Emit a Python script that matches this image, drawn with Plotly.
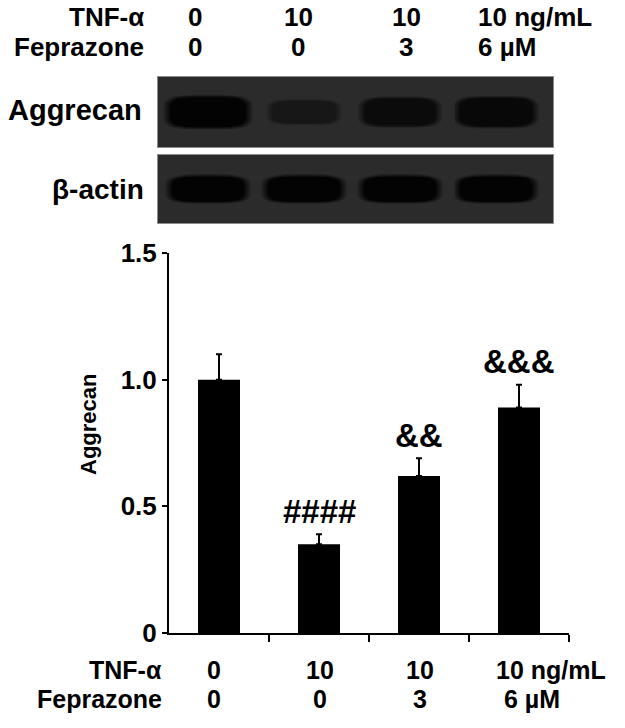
import numpy as np
import plotly.graph_objects as go

# Western blot band intensities (relative darkness per lane)
LANES = ["1", "2", "3", "4"]
AGGRECAN_BAND = [1.0, 0.5, 0.8, 0.88]
ACTIN_BAND = [1.0, 1.0, 1.0, 1.0]

# Densitometry (Aggrecan / beta-actin)
AGGRECAN_MEAN = [1.0, 0.35, 0.62, 0.89]
AGGRECAN_SEM = [0.10, 0.04, 0.07, 0.09]
SIG_MARKS = ["", "####", "&&", "&&&"]

TNF_LABELS = ["0", "10", "10", "10 ng/mL"]
FEP_LABELS = ["0", "0", "3", "6 µM"]

FONT = "Arial, Liberation Sans, sans-serif"
W, H = 625, 728


def px_x(v):
    return v / W


def px_y(v):
    return (H - v) / H


BLOT_X = [-0.52, 3.59]
BLOT_CMAP = [[0, "#2b2b2b"], [1, "#030303"]]


def band_image(intensities, hw_fn, hh_fn):
    """Render blot lanes as soft rounded bands on a fine grid."""
    xs = np.arange(BLOT_X[0], BLOT_X[1] + 0.005, 0.01)
    ys = np.arange(0, 1.005, 0.01)
    gx, gy = np.meshgrid(xs, ys)
    z = np.zeros_like(gx)
    for lane, inten in enumerate(intensities):
        hw, hh = hw_fn(inten), hh_fn(inten)
        rr = ((np.abs(gx - lane) / hw) ** 4 + (np.abs(gy - 0.5) / hh) ** 4) ** 0.25
        z = np.maximum(z, inten * np.clip((1.1 - rr) / 0.2, 0, 1))
    return xs, ys, z


fig = go.Figure()

ax, ay, az = band_image(AGGRECAN_BAND, lambda i: 0.3 + 0.13 * i, lambda i: 0.12 + 0.11 * i)
fig.add_trace(go.Heatmap(x=ax, y=ay, z=az, colorscale=BLOT_CMAP, zmin=0, zmax=1,
                         showscale=False, hoverinfo="skip", xaxis="x2", yaxis="y2"))
bx, by, bz = band_image(ACTIN_BAND, lambda i: 0.41, lambda i: 0.2)
fig.add_trace(go.Heatmap(x=bx, y=by, z=bz, colorscale=BLOT_CMAP, zmin=0, zmax=1,
                         showscale=False, hoverinfo="skip", xaxis="x3", yaxis="y3"))

fig.add_trace(go.Bar(
    x=list(range(len(AGGRECAN_MEAN))),
    y=AGGRECAN_MEAN,
    width=0.42,
    marker=dict(color="black", line=dict(width=0)),
    error_y=dict(type="data", array=AGGRECAN_SEM, arrayminus=[0] * 4, symmetric=False,
                 color="black", thickness=2, width=3),
    hoverinfo="skip",
))

blot_axis = dict(range=BLOT_X, showline=True, mirror=True, linecolor="#8c8c8c", linewidth=1,
                 showticklabels=False, ticks="", showgrid=False, zeroline=False)
blot_yaxis = dict(range=[0, 1], showline=True, mirror=True, linecolor="#8c8c8c", linewidth=1,
                  showticklabels=False, ticks="", showgrid=False, zeroline=False)

fig.update_layout(
    width=W, height=H,
    margin=dict(l=0, r=0, t=0, b=0, autoexpand=False),
    paper_bgcolor="white", plot_bgcolor="white",
    showlegend=False,
    font=dict(family=FONT, color="black", size=24),
    xaxis=dict(domain=[px_x(169), px_x(569)], range=[-0.5, 3.5],
               tickvals=[0.5, 1.5, 2.5, 3.5], showticklabels=False,
               ticks="outside", ticklen=7, tickwidth=2, tickcolor="black",
               showline=True, linewidth=2, linecolor="black",
               showgrid=False, zeroline=False, anchor="y", automargin=False),
    yaxis=dict(domain=[px_y(633), px_y(253)], range=[0, 1.5],
               tickvals=[0, 0.5, 1.0, 1.5], ticktext=["0", "0.5", "1.0", "1.5"],
               ticks="outside", ticklen=5, tickwidth=2, tickcolor="black",
               tickfont=dict(size=26, family=FONT, weight="bold"),
               showline=True, linewidth=2, linecolor="black",
               showgrid=False, zeroline=False, anchor="x", automargin=False),
    xaxis2=dict(domain=[px_x(158), px_x(553)], anchor="y2", **blot_axis),
    yaxis2=dict(domain=[px_y(147), px_y(77)], anchor="x2", **blot_yaxis),
    xaxis3=dict(domain=[px_x(158), px_x(553)], anchor="y3", **blot_axis),
    yaxis3=dict(domain=[px_y(223), px_y(155)], anchor="x3", **blot_yaxis),
)

bold = dict(family=FONT, weight="bold", color="black")
ann = []

# y axis title
ann.append(dict(text="Aggrecan", x=px_x(89), y=px_y(425), xref="paper", yref="paper",
                xanchor="center", yanchor="middle",
                textangle=-90, showarrow=False, font=dict(size=22, **bold)))

# significance marks
for i, (m, s, mark) in enumerate(zip(AGGRECAN_MEAN, AGGRECAN_SEM, SIG_MARKS)):
    if mark:
        ann.append(dict(text=mark, x=i, y=m + s, xref="x", yref="y",
                        xanchor="center", yanchor="middle",
                        yshift=23, showarrow=False, font=dict(size=33, **bold)))

# blot row labels
ann.append(dict(text="Aggrecan", x=px_x(144), y=px_y(110), xref="paper", yref="paper",
                xanchor="right", yanchor="middle", showarrow=False, font=dict(size=29, **bold)))
ann.append(dict(text="β-actin", x=px_x(146), y=px_y(190), xref="paper", yref="paper",
                xanchor="right", yanchor="middle", showarrow=False, font=dict(size=28, **bold)))

# treatment headers (top, aligned to blot lanes)
top_shift = [-13, -6, 6, -20]
for row_name, labels, ypx in [("TNF-α", TNF_LABELS, 17), ("Feprazone", FEP_LABELS, 47)]:
    ann.append(dict(text=row_name, x=px_x(146), y=px_y(ypx), xref="paper", yref="paper",
                    xanchor="right", yanchor="middle",
                    showarrow=False, font=dict(size=26, **bold)))
    for i, lab in enumerate(labels):
        last = i == len(labels) - 1
        ann.append(dict(text=lab, x=i, y=px_y(ypx), xref="x2", yref="paper",
                        xanchor="left" if last else "center", yanchor="middle",
                        xshift=top_shift[i], showarrow=False, font=dict(size=26, **bold)))

# treatment labels (bottom, aligned to bars)
bottom_shift = {"TNF-α": [-5, 1, 1, -25], "Feprazone": [-5, 1, 1, -17]}
for row_name, labels, ypx in [("TNF-α", TNF_LABELS, 670), ("Feprazone", FEP_LABELS, 699)]:
    ann.append(dict(text=row_name, x=px_x(164), y=px_y(ypx), xref="paper", yref="paper",
                    xanchor="right", yanchor="middle",
                    showarrow=False, font=dict(size=25, **bold)))
    for i, lab in enumerate(labels):
        last = i == len(labels) - 1
        ann.append(dict(text=lab, x=i, y=px_y(ypx), xref="x", yref="paper",
                        xanchor="left" if last else "center", yanchor="middle",
                        xshift=bottom_shift[row_name][i],
                        showarrow=False, font=dict(size=25, **bold)))

fig.update_layout(annotations=ann)

# drop the default page margin so the figure sits at the window's top-left corner
fig.write_html("out.html", config={"displayModeBar": False},
               post_script="document.body.style.margin='0';")
